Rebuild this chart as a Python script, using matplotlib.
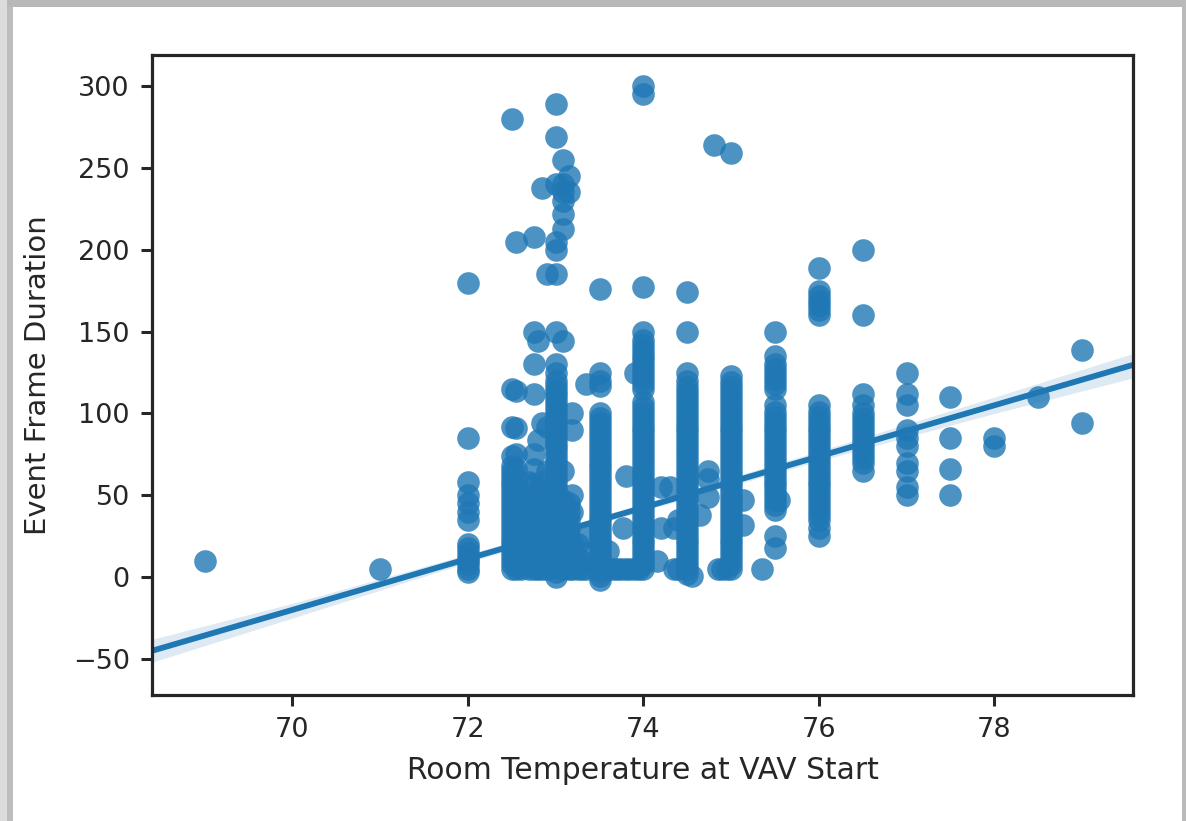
import matplotlib
matplotlib.use("Agg")
import matplotlib.pyplot as plt
from matplotlib.patches import Rectangle

# duration values per room temperature column
d69 = [10]
d71 = [5]
d72 = [3, 5, 8, 10, 12, 15, 18, 20, 35, 40, 45, 50, 58, 85, 180]
d725 = [5, 8, 11, 14, 17, 20, 23, 26, 29, 32, 35, 38, 41, 44, 47, 50, 53, 56, 59, 62, 65, 68, 74,
        92, 115, 280]
d7255 = [5, 8, 12, 16, 20, 25, 30, 35, 40, 45, 50, 55, 60, 66, 75, 91, 114, 205]
d726 = [5, 8, 11, 14, 17, 20, 23, 26, 29, 32, 35, 38, 41, 44, 47, 50]
d727 = [5, 8, 11, 14, 17, 20, 23, 26, 29, 32, 35, 38, 41, 44, 47, 50, 58]
d7275 = [5, 8, 11, 14, 17, 20, 23, 26, 29, 32, 35, 38, 41, 44, 47, 50, 57, 66, 75, 112, 130, 150, 208]
d728 = [5, 8, 11, 14, 17, 20, 23, 26, 29, 32, 35, 38, 41, 44, 47, 50, 53, 84, 144]
d7285 = [5, 10, 15, 20, 30, 40, 50, 58, 94, 238]
d729 = [5, 8, 11, 14, 17, 20, 23, 26, 29, 32, 35, 38, 41, 44, 47, 50, 65, 92, 185]
d73 = [0, 3, 6, 9, 12, 15, 18, 21, 24, 27, 30, 33, 36, 39, 42, 45, 48, 51, 54, 57, 60, 63, 66, 69,
       72, 75, 78, 81, 84, 87, 90, 93, 96, 99, 102, 105, 108, 111, 114, 117, 120, 125, 130, 150,
       185, 200, 205, 240, 269, 289]
d731 = [5, 8, 11, 14, 17, 20, 23, 26, 29, 32, 35, 38, 41, 44, 47, 65, 144, 213, 222, 230, 235, 240, 255]
d7315 = [5, 10, 15, 20, 25, 30, 35, 40, 45, 235, 245]
d732 = [5, 10, 15, 20, 40, 50, 90, 100]
d7325 = [5, 12, 20]
d733 = [5, 10]
d7335 = [5, 15, 25, 118]
d735 = [-2, 1, 4, 7, 10, 13, 16, 19, 22, 25, 28, 31, 34, 37, 40, 43, 46, 49, 52, 55, 58, 61, 64, 67,
        70, 73, 76, 79, 82, 85, 88, 91, 94, 97, 100, 117, 120, 125, 176]
d736 = [5, 16]
d7365 = [5]
d737 = [5]
d7375 = [5]
d7377 = [30]
d738 = [5, 62]
d7385 = [5]
d739 = [5, 125]
d7395 = [5]
d74 = [5, 8, 11, 14, 17, 20, 23, 26, 29, 32, 35, 38, 41, 44, 47, 50, 53, 56, 59, 62, 65, 68, 71, 74,
       77, 80, 83, 86, 89, 92, 95, 98, 101, 104, 107, 115, 118, 121, 124, 127, 130, 133, 136, 139,
       142, 145, 150, 177, 295, 300]
d7415 = [10]
d742 = [30, 55]
d743 = [55]
d7435 = [5, 30]
d744 = [5, 35]
d745 = [2, 5, 8, 11, 14, 17, 20, 23, 26, 29, 32, 35, 38, 41, 44, 47, 50, 53, 56, 59, 62, 65, 68, 71,
        74, 77, 80, 83, 86, 89, 92, 95, 98, 101, 104, 107, 110, 113, 116, 120, 125, 150, 174]
d7455 = [1]
d7464 = [38]
d7474 = [49, 60, 65]
d748 = [264]
d7485 = [5]
d749 = [5]
d7495 = [5]
d75 = [5, 8, 11, 14, 17, 20, 23, 26, 29, 32, 35, 38, 41, 44, 47, 50, 53, 56, 59, 62, 65, 68, 71, 74,
       77, 80, 83, 86, 89, 92, 95, 98, 101, 104, 107, 110, 113, 116, 119, 123, 259]
d7513 = [32, 47]
d7535 = [5]
d755 = [18, 25, 41, 44, 47, 50, 53, 56, 59, 62, 65, 68, 71, 74, 77, 80, 83, 86, 89, 92, 95, 98, 101,
        105, 115, 118, 121, 124, 127, 130, 135, 150]
d7555 = [47]
d76 = [25, 30, 35, 38, 41, 44, 47, 50, 53, 56, 59, 62, 65, 68, 71, 74, 77, 80, 83, 86, 89, 92, 95,
       98, 101, 105, 160, 163, 166, 169, 172, 175, 189]
d765 = [65, 70, 73, 76, 79, 82, 85, 88, 91, 94, 97, 100, 105, 112, 160, 200]
d77 = [50, 55, 65, 70, 80, 85, 90, 105, 112, 125]
d775 = [50, 66, 85, 110]
d78 = [80, 85]
d785 = [110]
d79 = [94, 139]

temps = [69, 71, 72, 72.5, 72.55, 72.6, 72.7, 72.75, 72.8, 72.85, 72.9, 73, 73.08, 73.15, 73.19,
         73.25, 73.3, 73.35, 73.5, 73.6, 73.65, 73.7, 73.75, 73.77, 73.8, 73.85, 73.9, 73.95, 74,
         74.15, 74.2, 74.3, 74.35, 74.4, 74.5, 74.55, 74.64, 74.74, 74.8, 74.85, 74.9, 74.95, 75,
         75.13, 75.35, 75.5, 75.55, 76, 76.5, 77, 77.5, 78, 78.5, 79]
durations = [d69, d71, d72, d725, d7255, d726, d727, d7275, d728, d7285, d729, d73, d731, d7315, d732,
             d7325, d733, d7335, d735, d736, d7365, d737, d7375, d7377, d738, d7385, d739, d7395, d74,
             d7415, d742, d743, d7435, d744, d745, d7455, d7464, d7474, d748, d7485, d749, d7495, d75,
             d7513, d7535, d755, d7555, d76, d765, d77, d775, d78, d785, d79]

# regression line and its confidence band
line_x = [68.4, 79.6]
line_y = [-45, 130]
band_x = [68.4, 70, 72, 74, 76, 78, 79.6]
band_lo = [-52, -25, 9, 40.5, 71, 100, 122]
band_hi = [-38, -16, 14, 45, 77, 110, 137]

xticks = [70, 72, 74, 76, 78]
yticks = [-50, 0, 50, 100, 150, 200, 250, 300]

blue = "#1f77b4"
dark = "#262626"

fig = plt.figure(figsize=(11.86, 8.21), dpi=100)
ax = fig.add_axes([152 / 1186, 126 / 821, 981 / 1186, 640 / 821])

for t, d in zip(temps, durations):
    ax.scatter([t] * len(d), d, s=265, color=blue, alpha=0.8, linewidths=0)

ax.fill_between(band_x, band_lo, band_hi, color=blue, alpha=0.15, linewidth=0)
ax.plot(line_x, line_y, color=blue, lw=4.2)

ax.set_xlim(68.4, 79.58)
ax.set_ylim(-72, 319)
ax.set_xticks(xticks)
ax.set_yticks(yticks)
ax.tick_params(labelsize=19.5, length=8, width=2.2, color=dark, labelcolor=dark, pad=8)
ax.set_xlabel("Room Temperature at VAV Start", fontsize=21.4, color=dark, labelpad=9)
ax.set_ylabel("Event Frame Duration", fontsize=21, color=dark, labelpad=15)
for s in ax.spines.values():
    s.set_linewidth(2.3)
    s.set_color(dark)

# grey window shadow round the screenshot
fig.add_artist(Rectangle((0, 1 - 7 / 821), 1, 7 / 821, transform=fig.transFigure, color="#b8b8b8", lw=0))
fig.add_artist(Rectangle((0, 0), 7 / 1186, 1, transform=fig.transFigure, color="#dcdcdc", lw=0))
fig.add_artist(Rectangle((7 / 1186, 0), 6 / 1186, 1 - 7 / 821, transform=fig.transFigure, color="#bdbdbd", lw=0))
fig.add_artist(Rectangle((1182 / 1186, 0), 4 / 1186, 1, transform=fig.transFigure, color="#bababa", lw=0))

fig.savefig("out.png", dpi=100)
